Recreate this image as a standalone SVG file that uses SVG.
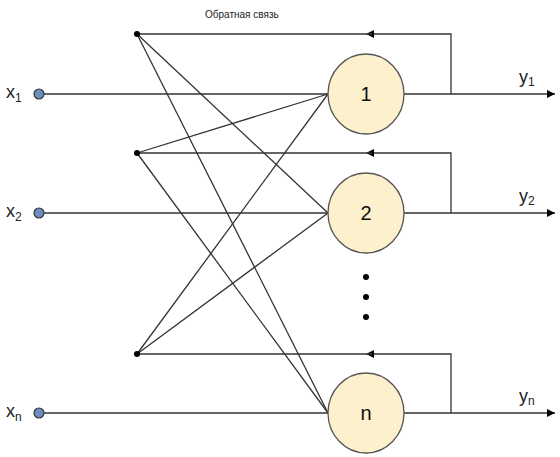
<svg xmlns="http://www.w3.org/2000/svg" width="560" height="457" viewBox="0 0 560 457">
<defs>
<marker id="ah" viewBox="0 0 10 10" refX="10" refY="5" markerWidth="8" markerHeight="8" markerUnits="userSpaceOnUse" orient="auto"><path d="M0,0 L10,5 L0,10 z" fill="#000"/></marker>
<marker id="mid" viewBox="0 0 10 10" refX="5" refY="5" markerWidth="8" markerHeight="8" markerUnits="userSpaceOnUse" orient="auto"><path d="M0,0 L10,5 L0,10 z" fill="#000"/></marker>
<style>
.ln{stroke:#333;stroke-width:1.3;fill:none}
.neuron{fill:#fdf0cc;stroke:#555;stroke-width:1.3}
.inp{fill:#6c8ebf;stroke:#333;stroke-width:1.2}
.jn{fill:#000}
.lbl{font-family:"Liberation Sans",Arial,sans-serif;fill:#222}
.num{font-family:"Liberation Sans",Arial,sans-serif;font-size:20px;fill:#111;text-anchor:middle}
</style>
</defs>
<rect width="560" height="457" fill="#fff"/>
<g id="connectors">
<line class="ln" x1="44" y1="94" x2="328" y2="94"/>
<line class="ln" x1="44" y1="213" x2="328" y2="213"/>
<line class="ln" x1="44" y1="413" x2="328" y2="413"/>
<line class="ln" x1="404" y1="94" x2="555" y2="94" marker-end="url(#ah)"/>
<line class="ln" x1="404" y1="213" x2="555" y2="213" marker-end="url(#ah)"/>
<line class="ln" x1="404" y1="413" x2="555" y2="413" marker-end="url(#ah)"/>
<polyline class="ln" points="451,94 451,34 370,34" marker-end="url(#mid)"/>
<line class="ln" x1="372" y1="34" x2="137" y2="34"/>
<polyline class="ln" points="451,213 451,153 370,153" marker-end="url(#mid)"/>
<line class="ln" x1="372" y1="153" x2="137" y2="153"/>
<polyline class="ln" points="451,413 451,354 370,354" marker-end="url(#mid)"/>
<line class="ln" x1="372" y1="354" x2="137" y2="354"/>
<line class="ln" x1="137" y1="34" x2="328" y2="213"/>
<line class="ln" x1="137" y1="34" x2="328" y2="413"/>
<line class="ln" x1="137" y1="153" x2="328" y2="94"/>
<line class="ln" x1="137" y1="153" x2="328" y2="413"/>
<line class="ln" x1="137" y1="354" x2="328" y2="94"/>
<line class="ln" x1="137" y1="354" x2="328" y2="213"/>
</g>
<g id="junctions">
<circle class="jn" cx="137" cy="34" r="3"/>
<circle class="jn" cx="137" cy="153" r="3"/>
<circle class="jn" cx="137" cy="354" r="3"/>
</g>
<g id="input-x1"><circle class="inp" cx="39" cy="94" r="5"/><text class="lbl" x="6" y="98" font-size="18">x<tspan font-size="12" dy="4">1</tspan></text></g>
<g id="input-x2"><circle class="inp" cx="39" cy="213" r="5"/><text class="lbl" x="6" y="217" font-size="18">x<tspan font-size="12" dy="4">2</tspan></text></g>
<g id="input-xn"><circle class="inp" cx="39" cy="413" r="5"/><text class="lbl" x="6" y="417" font-size="18">x<tspan font-size="12" dy="4">n</tspan></text></g>
<g id="neuron-1"><ellipse class="neuron" cx="366" cy="94" rx="38" ry="40"/><text class="num" x="366" y="101">1</text></g>
<g id="neuron-2"><ellipse class="neuron" cx="366" cy="213" rx="38" ry="40"/><text class="num" x="366" y="220">2</text></g>
<g id="neuron-n"><ellipse class="neuron" cx="366" cy="413" rx="38" ry="40"/><text class="num" x="366" y="420">n</text></g>
<g id="ellipsis">
<circle class="jn" cx="366" cy="277" r="3"/>
<circle class="jn" cx="366" cy="297" r="3"/>
<circle class="jn" cx="366" cy="317" r="3"/>
</g>
<g id="output-labels">
<text class="lbl" x="519" y="83" font-size="18">y<tspan font-size="12" dy="3">1</tspan></text>
<text class="lbl" x="519" y="202" font-size="18">y<tspan font-size="12" dy="3">2</tspan></text>
<text class="lbl" x="519" y="402" font-size="18">y<tspan font-size="12" dy="3">n</tspan></text>
</g>
<text class="lbl" x="205" y="18" font-size="10">Обратная связь</text>
</svg>
